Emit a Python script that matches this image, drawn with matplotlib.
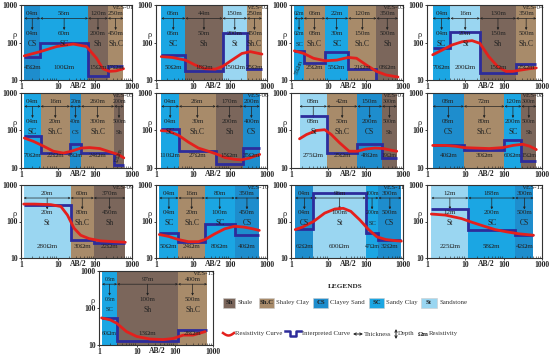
import numpy as np
import matplotlib
matplotlib.use("Agg")
import matplotlib.pyplot as plt
from matplotlib.patches import Rectangle

plt.rcParams['font.family'] = ['Liberation Serif', 'DejaVu Serif']

# ---------------- data ----------------
ves01_edges = [1.23, 3.3, 65, 223, 585]
ves01_litho = ['CS', 'SC', 'Sh', 'Sh.C']
ves01_thick = ['04m', '56m', '120m', '250m']
ves01_depth = ['04m', '60m', '200m', '450m']
ves01_res = [45, 100, 15, 17]
ves01_blue = [42, 100, 13, 23]
ves01_red_x = [1.23, 3.3, 9.2, 26, 59, 110, 163, 245, 370, 590]
ves01_red_y = [44, 57, 78, 91, 78, 38, 20, 17, 17.5, 20]

ves02_edges = [1.39, 6.2, 63, 288, 730]
ves02_litho = ['SC', 'Sh', 'St', 'Sh.C']
ves02_thick = ['06m', '44m', '150m', '250m']
ves02_depth = ['06m', '50m', '200m', '450m']
ves02_res = [50, 18, 150, 25]
ves02_blue = [47, 17, 174, 20]
ves02_red_x = [1.39, 2.7, 6.2, 11.5, 21, 40, 63, 113, 210, 355, 730]
ves02_red_y = [42, 40, 34, 25, 20, 19.5, 23, 34, 51, 57, 49]

ves03_edges = [1.23, 2.2, 8.2, 34, 195, 735]
ves03_litho = ['SC', 'Sh.C', 'SC', 'Sh.C', 'Sh']
ves03_thick = ['02m', '06m', '22m', '120m', '350m']
ves03_depth = ['02m', '08m', '30m', '150m', '500m']
ves03_res = [55, 25, 55, 21, 8]
ves03_blue = [60, 28, 57, 20, 8]
ves03_red_x = [1.23, 2.2, 4.0, 8.2, 17, 34, 57, 105, 195, 355, 735]
ves03_red_y = [60, 51, 38, 32.5, 34, 40, 38, 25, 17, 13.6, 12]

ves04_edges = [1.41, 4.1, 24, 210, 710]
ves04_litho = ['SC', 'St', 'Sh', 'Sh.C']
ves04_thick = ['04m', '16m', '130m', '350m']
ves04_depth = ['04m', '20m', '150m', '500m']
ves04_res = [70, 200, 15, 25]
ves04_blue = [70, 195, 15.7, 27]
ves04_red_x = [1.41, 2.5, 4.5, 8.3, 15, 24, 41, 69, 115, 170, 290, 475, 710]
ves04_red_y = [47, 63, 86, 105, 112, 95, 42, 23, 17, 17, 18.5, 20, 21]

ves05_edges = [1.23, 3.4, 21, 42, 330, 600]
ves05_litho = ['SC', 'Sh.C', 'CS', 'Sh.C', 'Sh']
ves05_thick = ['04m', '16m', '20m', '260m', '200m']
ves05_depth = ['04m', '20m', '40m', '300m', '500m']
ves05_res = [70, 22, 48, 24, 12]
ves05_blue = [70, 25, 44, 25, 12]
ves05_red_x = [1.23, 2.2, 4.1, 7.5, 14, 23, 42, 72, 135, 250, 420, 600]
ves05_red_y = [63, 51, 38, 28, 25, 28, 34, 35, 33, 27, 23, 18.6]

ves06_edges = [1.39, 4.2, 41, 225, 635]
ves06_litho = ['SC', 'Sh.C', 'Sh', 'CS']
ves06_thick = ['04m', '26m', '170m', '200m']
ves06_depth = ['04m', '30m', '200m', '400m']
ves06_res = [110, 27, 15, 35]
ves06_blue = [112, 28, 12.5, 34]
ves06_red_x = [1.39, 2.2, 4.1, 7.5, 14, 26, 44, 73, 135, 205, 340, 635]
ves06_red_y = [99, 96, 74, 49, 34, 28, 23.4, 19, 17, 16.5, 18.5, 23]

ves07_edges = [1.69, 9.2, 60, 275, 680]
ves07_litho = ['St', 'Sh.C', 'CS', 'Sh']
ves07_thick = ['08m', '42m', '150m', '300m']
ves07_depth = ['08m', '50m', '200m', '500m']
ves07_res = [275, 25, 48, 19]
ves07_blue = [250, 25, 44, 18.6]
ves07_red_x = [1.69, 2.6, 4.8, 8, 12, 20, 36, 60, 100, 180, 300, 500, 680]
ves07_red_y = [60, 78, 100, 105, 78, 47, 28, 28, 32, 34, 33, 29.5, 28]

ves08_edges = [1.41, 9.2, 105, 290, 710]
ves08_litho = ['CS', 'Sh.C', 'SC', 'Sh']
ves08_thick = ['08m', '72m', '120m', '300m']
ves08_depth = ['08m', '80m', '200m', '500m']
ves08_res = [40, 30, 60, 15]
ves08_blue = [40, 31, 57, 15.7]
ves08_red_x = [1.41, 3, 5.6, 9.2, 19, 42, 94, 175, 315, 480, 710]
ves08_red_y = [40, 40, 38, 35, 34, 33, 35, 40, 43, 38, 31]

ves09_edges = [1.18, 22, 93, 660]
ves09_litho = ['St', 'Sh.C', 'Sh']
ves09_thick = ['20m', '60m', '370m']
ves09_depth = ['20m', '80m', '450m']
ves09_res = [280, 30, 22]
ves09_blue = [290, 32, 26]
ves09_red_x = [1.18, 2.3, 6.4, 12, 18, 27, 41, 69, 140, 320, 660]
ves09_red_y = [300, 300, 290, 257, 150, 66, 42, 34, 29.5, 28, 27]

ves10_edges = [1.23, 4.05, 21, 133, 620]
ves10_litho = ['SC', 'Sh.C', 'SC', 'CS']
ves10_thick = ['04m', '16m', '80m', '350m']
ves10_depth = ['04m', '20m', '100m', '450m']
ves10_res = [50, 24, 80, 40]
ves10_blue = [48, 27, 83, 44]
ves10_red_x = [1.23, 2.2, 4.05, 7.5, 14, 21, 39, 72, 133, 245, 415, 620]
ves10_red_y = [44, 39, 32, 28, 28, 32, 46, 63, 74, 70, 63, 57]

ves11_edges = [1.3, 4, 100, 220, 900]
ves11_litho = ['CS', 'St', 'SC', 'CS']
ves11_thick = ['04m', '96m', '100m', '300m']
ves11_depth = ['04m', '100m', '200m', '500m']
ves11_res = [62, 600, 47, 32]
ves11_blue = [62, 600, 47, 32]
ves11_red_x = [1.3, 2, 4, 8, 15, 25, 40, 70, 120, 200, 350, 600, 900]
ves11_red_y = [60, 70, 100, 170, 220, 230, 190, 110, 60, 38, 32, 30, 29]

ves12_edges = [1.3, 12, 200, 600]
ves12_litho = ['St', 'SC', 'CS']
ves12_thick = ['12m', '188m', '300m']
ves12_depth = ['12m', '200m', '500m']
ves12_res = [225, 58, 42]
ves12_blue = [225, 58, 42]
ves12_red_x = [1.3, 3, 8, 15, 30, 60, 120, 250, 600]
ves12_red_y = [160, 150, 120, 95, 75, 60, 52, 46, 42]

ves13_edges = [1.2, 3, 120, 700]
ves13_litho = ['SC', 'Sh', 'Sh.C']
ves13_thick = ['03m', '97m', '400m']
ves13_depth = ['03m', '100m', '500m']
ves13_res = [60, 13, 28]
ves13_blue = [54, 13, 25]
ves13_red_x = [1.17, 1.95, 2.9, 5.3, 9.8, 22, 49, 90, 165, 300, 620]
ves13_red_y = [54, 48, 39, 23, 17, 14.5, 14, 15, 18.5, 18.5, 23]

x_ticks = [1, 10, 100, 1000]
x_ticklabels = ['1', '10', '100', '1000']
y_ticks = [10, 100, 1000]
y_ticklabels = ['10', '100', '1000']

legend_codes = ['Sh', 'Sh.C', 'CS', 'SC', 'St']
legend_names = ['Shale', 'Shaley Clay', 'Clayey Sand', 'Sandy Clay', 'Sandstone']

# ---------------- style ----------------
COL = {'Sh': '#7b665b', 'Sh.C': '#a88b6a', 'CS': '#1e8dcd', 'SC': '#1ba6e3', 'St': '#9ad6f1'}
RED = '#e4201c'
BLUE = '#2d2c9b'
TXT = '#222222'

panels = [
    ('VES-01', ves01_edges, ves01_litho, ves01_thick, ves01_depth, ves01_res, ves01_blue, ves01_red_x, ves01_red_y),
    ('VES-02', ves02_edges, ves02_litho, ves02_thick, ves02_depth, ves02_res, ves02_blue, ves02_red_x, ves02_red_y),
    ('VES-03', ves03_edges, ves03_litho, ves03_thick, ves03_depth, ves03_res, ves03_blue, ves03_red_x, ves03_red_y),
    ('VES-04', ves04_edges, ves04_litho, ves04_thick, ves04_depth, ves04_res, ves04_blue, ves04_red_x, ves04_red_y),
    ('VES-05', ves05_edges, ves05_litho, ves05_thick, ves05_depth, ves05_res, ves05_blue, ves05_red_x, ves05_red_y),
    ('VES-06', ves06_edges, ves06_litho, ves06_thick, ves06_depth, ves06_res, ves06_blue, ves06_red_x, ves06_red_y),
    ('VES-07', ves07_edges, ves07_litho, ves07_thick, ves07_depth, ves07_res, ves07_blue, ves07_red_x, ves07_red_y),
    ('VES-08', ves08_edges, ves08_litho, ves08_thick, ves08_depth, ves08_res, ves08_blue, ves08_red_x, ves08_red_y),
    ('VES-09', ves09_edges, ves09_litho, ves09_thick, ves09_depth, ves09_res, ves09_blue, ves09_red_x, ves09_red_y),
    ('VES-10', ves10_edges, ves10_litho, ves10_thick, ves10_depth, ves10_res, ves10_blue, ves10_red_x, ves10_red_y),
    ('VES-11', ves11_edges, ves11_litho, ves11_thick, ves11_depth, ves11_res, ves11_blue, ves11_red_x, ves11_red_y),
    ('VES-12', ves12_edges, ves12_litho, ves12_thick, ves12_depth, ves12_res, ves12_blue, ves12_red_x, ves12_red_y),
    ('VES-13', ves13_edges, ves13_litho, ves13_thick, ves13_depth, ves13_res, ves13_blue, ves13_red_x, ves13_red_y),
]

# panel boxes in pixels: left, top, right, bottom
col_x = [(21, 132), (156, 267), (291, 403), (427, 542)]
row_y = [(5, 80), (93, 168), (185, 258)]
boxes = {}
for i in range(12):
    r, c = divmod(i, 4)
    boxes[i] = (col_x[c][0], row_y[r][0], col_x[c][1], row_y[r][1])
boxes[12] = (99, 271, 213, 345)

W, H = 550, 358
fig = plt.figure(figsize=(W / 100, H / 100), dpi=100)

FS = 5.0


def draw(ax, name, edges, litho, thick, depth, res, blue, rx, ry):
    ax.set_xscale('log')
    ax.set_yscale('log')
    ax.set_xlim(1, 1000)
    ax.set_ylim(10, 1000)
    n = len(litho)
    for i in range(n):
        ax.axvspan(edges[i], edges[i + 1], color=COL[litho[i]], lw=0, zorder=0)
    y_line = 440
    for i in range(n):
        a, b = edges[i], edges[i + 1]
        xc = np.sqrt(a * b)
        wdec = np.log10(b / a)
        narrow = wdec < 0.3
        fs = FS if wdec >= 0.4 else 4.2
        ax.annotate('', xy=(a, y_line), xytext=(b, y_line),
                    arrowprops=dict(arrowstyle='<->', lw=0.5, color=TXT,
                                    mutation_scale=3, shrinkA=0, shrinkB=0), zorder=2)
        ax.annotate('', xy=(xc, 215), xytext=(xc, y_line),
                    arrowprops=dict(arrowstyle='-|>', lw=0.5, color=TXT,
                                    mutation_scale=3, shrinkA=0, shrinkB=0), zorder=2)
        ax.text(xc, 590, thick[i], ha='center', va='center', fontsize=fs, color=TXT, zorder=5)
        ax.text(xc, 172, depth[i], ha='center', va='center', fontsize=fs, color=TXT, zorder=5)
        ax.text(xc, 90, litho[i], ha='center', va='center', fontsize=fs + 0.5, color=TXT, zorder=5)
        ax.text(xc, 21, f'{res[i]:02d}Ωm', ha='center', va='center', fontsize=fs, color=TXT,
                rotation=70 if narrow else 0, zorder=5)
    ax.stairs(blue, edges, baseline=None, color=BLUE, lw=2.0, zorder=3)
    ax.plot(rx, ry, color=RED, lw=2.0, solid_capstyle='round', zorder=4)

    ax.set_xticks(x_ticks)
    ax.set_xticklabels(x_ticklabels, fontweight='bold', fontsize=5.5)
    ax.set_yticks(y_ticks)
    ax.set_yticklabels(y_ticklabels, fontweight='bold', fontsize=5.5)
    ax.yaxis.set_minor_locator(matplotlib.ticker.NullLocator())
    ax.tick_params(which='major', length=1.5, pad=1, width=0.6, colors=TXT)
    ax.tick_params(axis='x', which='minor', length=1.5, direction='in', width=0.4, colors=TXT)
    ax.xaxis.set_minor_formatter(matplotlib.ticker.NullFormatter())
    for s in ax.spines.values():
        s.set_color('#333333')
        s.set_linewidth(0.8)
    ax.text(35, -0.025, 'AB/2', transform=ax.get_xaxis_transform(), ha='center', va='top',
            fontsize=5.5, fontweight='bold', color=TXT)
    ax.text(-0.06, 0.6, 'ρ', transform=ax.transAxes, ha='center', va='center', fontsize=6, color=TXT)
    ax.text(1.02, 0.995, name, transform=ax.transAxes, ha='right', va='top', fontsize=5.0,
            color=TXT, zorder=6)


for i, p in enumerate(panels):
    l, t, r, b = boxes[i]
    ax = fig.add_axes([l / W, 1 - b / H, (r - l) / W, (b - t) / H])
    ax.set_facecolor('white')
    draw(ax, *p)

# ---------------- legend ----------------
lg = fig.add_axes([0, 0, 1, 1])
lg.set_xlim(0, W)
lg.set_ylim(H, 0)
lg.axis('off')
LFS = 4.9
lg.text(345, 286, 'LEGENDS', ha='center', va='center', fontsize=5.2, fontweight='bold', color=TXT)
box_x = [223, 259, 313, 369, 421]
box_w = [12, 15, 15, 15, 16]
for code, name, bx, bw in zip(legend_codes, legend_names, box_x, box_w):
    lg.add_patch(Rectangle((bx, 298), bw, 10, facecolor=COL[code], edgecolor='#cccccc', lw=0.4))
    lg.text(bx + bw / 2, 303, code, ha='center', va='center', fontsize=4.8, fontweight='bold', color=TXT)
    lg.text(bx + bw + 2, 302.5, name, ha='left', va='center', fontsize=LFS, color='#333333')

# resistivity curve glyph
gx = np.linspace(223, 234, 20)
gy = 333 + 2.5 * np.sin((gx - 223) / 11 * np.pi)
lg.plot(gx, gy, color=RED, lw=1.8)
lg.text(235, 334, 'Resistivity Curve', ha='left', va='center', fontsize=LFS, color='#333333')
lg.plot([285, 290, 290, 296, 296, 301], [331, 331, 336, 336, 331, 331], color=BLUE, lw=1.8)
lg.text(302, 334, 'Interpreted Curve', ha='left', va='center', fontsize=LFS, color='#333333')
lg.annotate('', xy=(353, 334), xytext=(363, 334),
            arrowprops=dict(arrowstyle='<->', lw=0.7, color=TXT, mutation_scale=4, shrinkA=0, shrinkB=0))
lg.text(364, 334, 'Thickness', ha='left', va='center', fontsize=LFS, color='#333333')
lg.annotate('', xy=(396, 329), xytext=(396, 339),
            arrowprops=dict(arrowstyle='<->', lw=0.7, color=TXT, mutation_scale=4, shrinkA=0, shrinkB=0))
lg.text(398, 334, 'Depth', ha='left', va='center', fontsize=LFS, color='#333333')
lg.text(418, 334, 'Ωm', ha='left', va='center', fontsize=LFS, fontweight='bold', color=TXT)
lg.text(429, 334, 'Resistivity', ha='left', va='center', fontsize=LFS, color='#333333')

fig.savefig('out.png', dpi=100)
